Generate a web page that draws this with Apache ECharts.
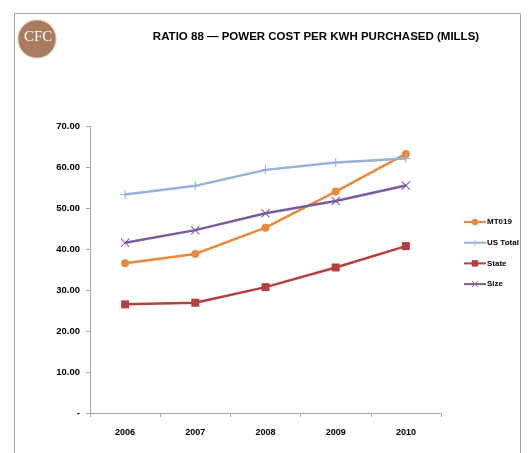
<!DOCTYPE html>
<html>
<head>
<meta charset="utf-8">
<script src="https://cdn.jsdelivr.net/npm/echarts@6/dist/echarts.min.js"></script>
<style>
  html, body { margin: 0; padding: 0; background: #fff; }
  #main { width: 529px; height: 453px; }
</style>
</head>
<body>
<div id="main"></div>
<script>
// chart data
var years = ['2006', '2007', '2008', '2009', '2010'];
var mt019 = [36.5, 38.8, 45.2, 54.0, 63.2];
var usTotal = [53.3, 55.4, 59.3, 61.1, 62.1];
var state = [26.5, 26.9, 30.7, 35.5, 40.7];
var sizeGroup = [41.5, 44.6, 48.7, 51.7, 55.5];
var yTicks = [0, 10, 20, 30, 40, 50, 60, 70];

var plusPath = 'path://M4.4,0 L5.6,0 L5.6,4.4 L10,4.4 L10,5.6 L5.6,5.6 L5.6,10 L4.4,10 L4.4,5.6 L0,5.6 L0,4.4 L4.4,4.4 Z';
var crossPath = 'path://M0,0.8 L0.8,0 L5,4.2 L9.2,0 L10,0.8 L5.8,5 L10,9.2 L9.2,10 L5,5.8 L0.8,10 L0,9.2 L4.2,5 Z';

var labelFont = 'Liberation Sans';

var chart = echarts.init(document.getElementById('main'));
var option = {
    backgroundColor: '#fff',
    animation: false,
    title: {
        text: 'RATIO 88 \u2014 POWER COST PER KWH PURCHASED (MILLS)',
        left: 311,
        textAlign: 'center',
        top: 26,
        textStyle: {
            fontFamily: labelFont,
            fontWeight: 'bold',
            fontSize: 11.5,
            color: '#000'
        }
    },
    graphic: [
        {
            type: 'rect',
            shape: { x: 14.5, y: 13.5, width: 506, height: 460 },
            style: { fill: 'none', stroke: '#a6a6a6', lineWidth: 1 },
            silent: true
        },
        {
            type: 'circle',
            shape: { cx: 37, cy: 39, r: 19 },
            style: { fill: '#a97c5e', stroke: '#d9c2b2', lineWidth: 1 },
            silent: true
        },
        {
            type: 'text',
            left: 24,
            top: 30,
            style: {
                text: 'CFC',
                fill: '#fff',
                font: '15px "Liberation Serif"'
            },
            silent: true
        }
    ],
    legend: {
        orient: 'vertical',
        left: 458,
        top: 213,
        itemWidth: 22,
        itemHeight: 8,
        itemGap: 12.7,
        textStyle: {
            fontFamily: labelFont,
            fontWeight: 'bold',
            fontSize: 8,
            color: '#000',
            padding: [0, 0, 0, -4]
        },
        data: ['MT019', 'US Total', 'State', 'Size']
    },
    grid: {
        left: 90,
        right: 88,
        top: 126,
        bottom: 40
    },
    xAxis: {
        type: 'category',
        data: years,
        boundaryGap: true,
        axisLine: { lineStyle: { color: '#a6a6a6', width: 1 } },
        axisTick: { show: true, length: 4, lineStyle: { color: '#a6a6a6' } },
        axisLabel: {
            margin: 15,
            fontFamily: labelFont,
            fontWeight: 'bold',
            fontSize: 9,
            color: '#000'
        }
    },
    yAxis: {
        type: 'value',
        min: 0,
        max: 70,
        interval: 10,
        axisLine: { show: true, lineStyle: { color: '#a6a6a6', width: 1 } },
        axisTick: { show: true, length: 4, inside: false, lineStyle: { color: '#a6a6a6' } },
        splitLine: { show: false },
        axisLabel: {
            margin: 10,
            fontFamily: labelFont,
            fontWeight: 'bold',
            fontSize: 9.5,
            color: '#000',
            formatter: function (v) {
                return v === yTicks[0] ? '-' : v.toFixed(2);
            }
        }
    },
    series: [
        {
            name: 'MT019',
            type: 'line',
            data: mt019,
            symbol: 'circle',
            symbolSize: 8,
            lineStyle: { color: '#e8893c', width: 2.5 },
            itemStyle: { color: '#e8893c' }
        },
        {
            name: 'US Total',
            type: 'line',
            data: usTotal,
            symbol: plusPath,
            symbolSize: 9,
            lineStyle: { color: '#95b3d7', width: 2.5 },
            itemStyle: { color: '#95b3d7' }
        },
        {
            name: 'State',
            type: 'line',
            data: state,
            symbol: 'rect',
            symbolSize: 8,
            lineStyle: { color: '#b0413e', width: 2.5 },
            itemStyle: { color: '#b0413e' }
        },
        {
            name: 'Size',
            type: 'line',
            data: sizeGroup,
            symbol: crossPath,
            symbolSize: 9,
            lineStyle: { color: '#7a5c9e', width: 2.5 },
            itemStyle: { color: '#7a5c9e' }
        }
    ]
};
chart.setOption(option);
</script>
</body>
</html>
